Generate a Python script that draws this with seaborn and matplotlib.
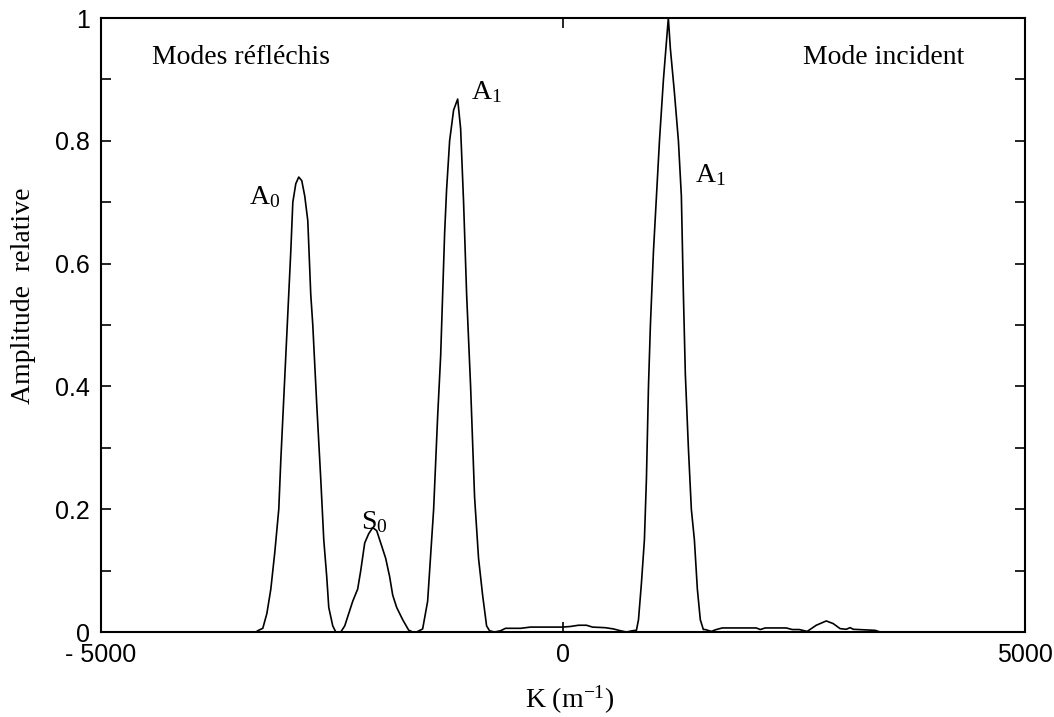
import matplotlib
matplotlib.use("Agg")
import matplotlib.pyplot as plt
import seaborn as sns
import numpy as np

# ---- data ----
k_values = [-5000, -3324, -3292, -3249, -3205, -3162, -3119, -3076, -3054, -3000,
            -2946, -2924, -2892, -2860, -2827, -2795, -2762, -2730, -2708, -2665,
            -2622, -2589, -2557, -2535, -2492, -2459, -2405, -2362, -2319, -2276,
            -2222, -2189, -2146, -2103, -2059, -2016, -1973, -1919, -1876, -1843,
            -1800, -1735, -1670, -1627, -1584,
            -1519, -1465, -1400, -1357, -1324, -1303, -1281, -1260, -1227, -1184,
            -1140, -1108, -1076, -1043, -1000, -957, -914, -870, -827, -795,
            -741, -676, -622, -459, -351,
            -189, -81, -5, 81, 168, 254, 319, 459, 546, 622, 686, 751, 795, 817,
            849, 881, 903, 925, 946, 979, 1011, 1044, 1087, 1119, 1140, 1162,
            1205, 1249, 1281, 1303, 1324, 1357, 1389, 1422, 1454, 1486, 1519,
            1540, 1605, 1659, 1724, 2092, 2135, 2189, 2416, 2481, 2557, 2643,
            2741, 2849, 2924, 2999, 3065, 3108, 3141, 3378, 3432, 5000]
amplitude = [0.0, 0.0, 0.003, 0.006, 0.03, 0.07, 0.13, 0.20, 0.28, 0.45,
             0.62, 0.70, 0.73, 0.741, 0.735, 0.71, 0.67, 0.55, 0.50, 0.37,
             0.25, 0.15, 0.09, 0.04, 0.01, 0.0, 0.0, 0.01, 0.03, 0.05,
             0.07, 0.10, 0.145, 0.16, 0.17, 0.165, 0.145, 0.12, 0.09, 0.06,
             0.04, 0.02, 0.003, 0.0, 0.0,
             0.005, 0.05, 0.20, 0.35, 0.45, 0.55, 0.65, 0.72, 0.80, 0.85,
             0.868, 0.82, 0.70, 0.55, 0.40, 0.22, 0.12, 0.06, 0.01, 0.002,
             0.0, 0.002, 0.006, 0.006, 0.008,
             0.008, 0.008, 0.008, 0.009, 0.011, 0.011, 0.008, 0.007, 0.005, 0.002, 0.0, 0.002, 0.003, 0.02,
             0.08, 0.15, 0.25, 0.40, 0.50, 0.62, 0.71, 0.80, 0.90, 0.96, 1.0, 0.95,
             0.88, 0.80, 0.71, 0.55, 0.42, 0.30, 0.20, 0.15, 0.07, 0.02, 0.004,
             0.004, 0.001, 0.004, 0.0066, 0.0066, 0.004, 0.0066, 0.0066, 0.004, 0.004, 0.001,
             0.011, 0.018, 0.0137, 0.0055, 0.0044, 0.0071, 0.0044, 0.0027, 0.0, 0.0]

x_ticks = [-5000, 0, 5000]
x_ticklabels = ["- 5000", "0", "5000"]
y_ticks = [0, 0.2, 0.4, 0.6, 0.8, 1.0]
y_ticklabels = ["0", "0.2", "0.4", "0.6", "0.8", "1"]
y_minor = [0.1, 0.3, 0.5, 0.7, 0.9]

annotations = [
    ("Modes réfléchis", -4443, 0.936),
    ("Mode incident", 2600, 0.936),
    (r"A$_{\mathrm{0}}$", -3400, 0.708),
    (r"S$_{\mathrm{0}}$", -2189, 0.179),
    (r"A$_{\mathrm{1}}$", -1000, 0.879),
    (r"A$_{\mathrm{1}}$", 1432, 0.744),
]

# ---- style ----
sns.set_style("white")
plt.rcParams["font.family"] = ["Liberation Sans", "DejaVu Sans"]
plt.rcParams["mathtext.fontset"] = "custom"
plt.rcParams["mathtext.rm"] = "Liberation Serif"
plt.rcParams["mathtext.it"] = "Liberation Serif:italic"

fig = plt.figure(figsize=(10.54, 7.17), dpi=100)
ax = fig.add_axes([101 / 1054, 1 - 632 / 717, 924 / 1054, 614 / 717])

sns.lineplot(x=k_values, y=amplitude, ax=ax, color="black", linewidth=1.2,
             sort=False, estimator=None)

ax.set_xlim(-5000, 5000)
ax.set_ylim(0, 1)

ax.set_xticks(x_ticks)
ax.set_xticklabels(x_ticklabels)
ax.set_yticks(y_ticks)
ax.set_yticklabels(y_ticklabels)
ax.set_yticks(y_minor, minor=True)

ax.tick_params(axis="both", which="both", direction="in", length=7, width=1.2,
               color="black", labelsize=18, labelcolor="black")
ax.tick_params(axis="x", which="both", top=True, bottom=True, pad=8)
ax.tick_params(axis="y", which="both", left=True, right=True, pad=8)

for s in ax.spines.values():
    s.set_color("black")
    s.set_linewidth(1.5)
    s.set_visible(True)

serif = ["Liberation Serif", "DejaVu Serif"]
ax.set_xlabel(r"K (m$^{\mathrm{-1}}$)", fontsize=20, family=serif, color="black")
ax.set_ylabel("Amplitude  relative", fontsize=20, family=serif, color="black")
ax.xaxis.set_label_coords(0.5076, -0.111)
ax.xaxis.label.set_verticalalignment("center")
ax.yaxis.set_label_coords(-0.084, 0.547)
ax.yaxis.label.set_verticalalignment("center")

for txt, xx, yy in annotations:
    ax.text(xx, yy, txt, fontsize=20, family=serif, ha="left", va="center", color="black")

fig.savefig("out.png", dpi=100, facecolor="white")
